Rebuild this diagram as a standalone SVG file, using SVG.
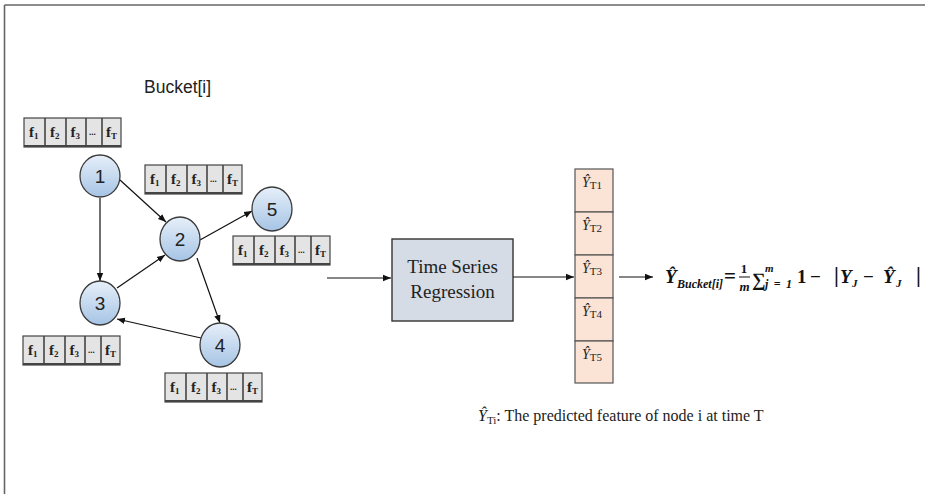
<svg xmlns="http://www.w3.org/2000/svg" xmlns:xlink="http://www.w3.org/1999/xlink" width="925" height="494" viewBox="0 0 925 494">
<style>
.cell{fill:#e4e4e4;stroke:#444;stroke-width:1.2}
.fl{font-family:"Liberation Serif",serif;font-weight:bold;font-size:15px;fill:#222}
.sub{font-size:9px}
.node{stroke:#3a3a3a;stroke-width:1.3;fill:url(#ng)}
.num{font-family:"Liberation Sans",Arial,sans-serif;font-size:19px;fill:#222;text-anchor:middle}
.edge{stroke:#111;stroke-width:1.2;fill:none;marker-end:url(#ah)}
.ser{font-family:"Liberation Serif","Times New Roman",serif;fill:#222}
.math{font-family:"Liberation Serif","Times New Roman",serif;font-weight:bold;fill:#111}
.it{font-style:italic}
.col{fill:#fbe4d5;stroke:#555;stroke-width:1.2}
</style>
<defs>
<linearGradient id="ng" x1="0" y1="0" x2="0" y2="1">
<stop offset="0" stop-color="#e6eff9"/>
<stop offset="1" stop-color="#a6c4e5"/>
</linearGradient>
<marker id="ah" viewBox="0 0 10 10" refX="10" refY="5" markerWidth="8" markerHeight="8" markerUnits="userSpaceOnUse" orient="auto">
<path d="M0,1 L10,5 L0,9 Z" fill="#111"/>
</marker>
<g id="fb">
<rect class="cell" x="0" y="0" width="97" height="29"/>
<line x1="0" y1="28" x2="97" y2="28" stroke="#444" stroke-width="2.2"/>
<line x1="21" y1="0" x2="21" y2="29" stroke="#444" stroke-width="1.6"/>
<line x1="42" y1="0" x2="42" y2="29" stroke="#444" stroke-width="1.6"/>
<line x1="62" y1="0" x2="62" y2="29" stroke="#444" stroke-width="1.6"/>
<line x1="78" y1="0" x2="78" y2="29" stroke="#444" stroke-width="1.6"/>
<text class="fl" x="5" y="19">f<tspan class="sub" dy="2">1</tspan></text>
<text class="fl" x="26" y="19">f<tspan class="sub" dy="2">2</tspan></text>
<text class="fl" x="46.5" y="19">f<tspan class="sub" dy="2">3</tspan></text>
<text x="65" y="17" font-family="Liberation Serif,serif" font-size="9" font-weight="bold" fill="#222">...</text>
<text class="fl" x="82" y="19">f<tspan class="sub" dy="2">T</tspan></text>
</g>
</defs>
<rect width="925" height="494" fill="#fff"/>
<g id="frame" stroke="#666" stroke-width="1.6" fill="none">
<line x1="4.5" y1="5" x2="925" y2="5"/>
<line x1="4.5" y1="5" x2="4.5" y2="494"/>
</g>
<text id="bucket-label" x="144" y="93" font-family="Liberation Sans,Arial,sans-serif" font-size="17.5" fill="#222">Bucket[i]</text>
<g id="connectors">
<line class="edge" x1="100" y1="198" x2="100" y2="281"/>
<line class="edge" x1="120" y1="180" x2="166" y2="222"/>
<line class="edge" x1="117" y1="288" x2="165" y2="255"/>
<line class="edge" x1="200" y1="240" x2="252" y2="211"/>
<line class="edge" x1="197" y1="258" x2="220" y2="323"/>
<line class="edge" x1="201" y1="338" x2="117" y2="319"/>
<line class="edge" x1="327" y1="278" x2="391" y2="278"/>
<line class="edge" x1="513" y1="277" x2="574" y2="277"/>
<line class="edge" x1="619" y1="277" x2="653" y2="277"/>
</g>
<g id="node1">
<use xlink:href="#fb" x="24" y="118"/>
<ellipse class="node" cx="100" cy="176" rx="20" ry="21"/>
<text class="num" x="100" y="183">1</text>
</g>
<g id="node2">
<use xlink:href="#fb" x="145" y="165"/>
<ellipse class="node" cx="180" cy="239" rx="20" ry="22"/>
<text class="num" x="180" y="246">2</text>
</g>
<g id="node5">
<use xlink:href="#fb" x="233" y="236"/>
<ellipse class="node" cx="272" cy="209" rx="20" ry="22"/>
<text class="num" x="272" y="216">5</text>
</g>
<g id="node3">
<use xlink:href="#fb" x="23" y="336"/>
<ellipse class="node" cx="100" cy="303" rx="20" ry="22"/>
<text class="num" x="100" y="310">3</text>
</g>
<g id="node4">
<use xlink:href="#fb" x="165" y="373"/>
<ellipse class="node" cx="220" cy="345" rx="20" ry="22"/>
<text class="num" x="220" y="352">4</text>
</g>
<g id="tsr">
<rect x="392" y="239" width="121" height="82" fill="#d6dce5" stroke="#333" stroke-width="1.4"/>
<text class="ser" x="452.5" y="273" font-size="19" text-anchor="middle">Time Series</text>
<text class="ser" x="452.5" y="298" font-size="19" text-anchor="middle">Regression</text>
</g>
<g id="predictions">
<rect class="col" x="575" y="169" width="38" height="43"/>
<rect class="col" x="575" y="212" width="38" height="43"/>
<rect class="col" x="575" y="255" width="38" height="43"/>
<rect class="col" x="575" y="298" width="38" height="43"/>
<rect class="col" x="575" y="341" width="38" height="42"/>
<text class="ser" x="582" y="187" font-size="14"><tspan font-style="italic">Ŷ</tspan><tspan font-size="11" dy="2">T1</tspan></text>
<text class="ser" x="582" y="230" font-size="14"><tspan font-style="italic">Ŷ</tspan><tspan font-size="11" dy="2">T2</tspan></text>
<text class="ser" x="582" y="273" font-size="14"><tspan font-style="italic">Ŷ</tspan><tspan font-size="11" dy="2">T3</tspan></text>
<text class="ser" x="582" y="316" font-size="14"><tspan font-style="italic">Ŷ</tspan><tspan font-size="11" dy="2">T4</tspan></text>
<text class="ser" x="582" y="359" font-size="14"><tspan font-style="italic">Ŷ</tspan><tspan font-size="11" dy="2">T5</tspan></text>
</g>
<g id="formula">
<text class="math it" x="665" y="283" font-size="19">Ŷ</text>
<text class="math it" x="677" y="288" font-size="12">Bucket[i]</text>
<text class="math" x="724" y="283" font-size="21">=</text>
<text class="math" x="744" y="273" font-size="13" text-anchor="middle">1</text>
<line x1="739" y1="277" x2="750" y2="277" stroke="#111" stroke-width="1"/>
<text class="math it" x="744.5" y="291" font-size="13" text-anchor="middle">m</text>
<text class="math" x="752" y="286" font-size="19">∑</text>
<text class="math it" x="765" y="272" font-size="11">m</text>
<text class="math it" x="765" y="288" font-size="12" textLength="27" lengthAdjust="spacing">j=1</text>
<text class="math" x="797" y="283" font-size="19">1</text>
<text class="math" x="810" y="283" font-size="19">−</text>
<text class="math" x="834" y="282" font-size="22">|</text>
<text class="math it" x="840" y="283" font-size="19">Y</text>
<text class="math it" x="852" y="287" font-size="11">J</text>
<text class="math" x="863" y="283" font-size="19">−</text>
<text class="math it" x="883" y="283" font-size="19">Ŷ</text>
<text class="math it" x="896" y="287" font-size="11">J</text>
<text class="math" x="916" y="282" font-size="22">|</text>
</g>
<text id="caption" class="ser" x="478" y="421" font-size="16"><tspan font-style="italic">Ŷ</tspan><tspan font-size="11" dy="3">Ti</tspan><tspan dy="-3">: The predicted feature of node i at time T</tspan></text>
</svg>
